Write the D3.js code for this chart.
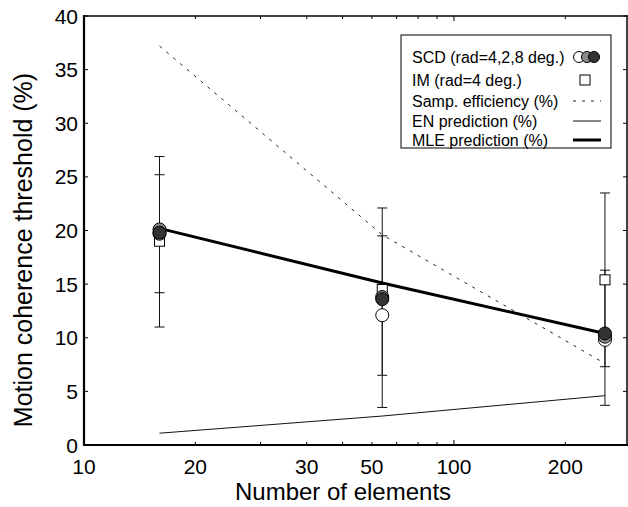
<!DOCTYPE html>
<html>
<head>
<meta charset="utf-8">
<script src="https://cdn.jsdelivr.net/npm/d3@7"></script>
<style>
  body { margin: 0; background: #fff; }
  svg { display: block; font-family: "Liberation Sans", Arial, sans-serif; }
</style>
</head>
<body>
<div id="chart-container"></div>
<script>
// Data
const elements = [16, 64, 256];
const scdWhite = [19.7, 12.1, 9.8];
const scdGrey = [20.1, 13.8, 10.1];
const scdDark = [19.8, 13.6, 10.4];
const imValues = [19.0, 14.5, 15.4];
const scdErrLow = [14.2, 3.5, 3.7];
const scdErrHigh = [25.2, 19.5, 16.3];
const imErrLow = [11.0, 6.5, 7.3];
const imErrHigh = [26.9, 22.1, 23.5];
const sampEfficiency = [37.2, 19.6, 7.6];
const enPrediction = [1.1, 2.7, 4.6];
const mlePrediction = [20.2, 15.1, 10.4];

const xTickValues = [10, 20, 40, 60, 100, 200];
const xTickLabels = ["10", "20", "30", "50", "100", "200"];
const xMinorTicks = [20, 30, 40, 50, 60, 70, 80, 90, 100, 200];
const yTickValues = [0, 5, 10, 15, 20, 25, 30, 35, 40];

const legendLabels = ["SCD (rad=4,2,8 deg.)", "IM (rad=4 deg.)", "Samp. efficiency (%)", "EN prediction (%)", "MLE prediction (%)"];

const W = 628, H = 507;
const svg = d3.select("#chart-container")
    .append("svg")
    .attr("width", W)
    .attr("height", H);

const x = d3.scaleLog().domain([10, 293.6]).range([84, 627]);
const y = d3.scaleLinear().domain([0, 40]).range([445, 16]);

// Frame
svg.append("line").attr("x1", 84).attr("x2", 628).attr("y1", 16).attr("y2", 16)
    .attr("stroke", "#000").attr("stroke-width", 1.5);
svg.append("line").attr("x1", 627).attr("x2", 627).attr("y1", 16).attr("y2", 445)
    .attr("stroke", "#000").attr("stroke-width", 1.5);

// Bottom axis (inward ticks)
const xAxis = svg.append("g").attr("transform", "translate(0,445)");
xAxis.append("line").attr("x1", 83).attr("x2", 628).attr("stroke", "#000").attr("stroke-width", 2.2);
xAxis.selectAll(".minor").data(xMinorTicks).enter().append("line")
    .attr("x1", d => x(d)).attr("x2", d => x(d))
    .attr("y1", 0).attr("y2", d => d === 100 ? -5 : -3)
    .attr("stroke", "#000").attr("stroke-width", 1);
xAxis.selectAll(".lab").data(xTickValues).enter().append("text")
    .attr("x", d => x(d)).attr("y", 29)
    .attr("text-anchor", "middle")
    .style("font-size", "21px")
    .text((d, i) => xTickLabels[i]);

// Top ticks
svg.selectAll(".topTick").data(xMinorTicks).enter().append("line")
    .attr("x1", d => x(d)).attr("x2", d => x(d))
    .attr("y1", 16).attr("y2", d => d === 100 ? 21 : 19)
    .attr("stroke", "#000").attr("stroke-width", 1);

// Left axis
const yAxis = svg.append("g");
yAxis.append("line").attr("x1", 84).attr("x2", 84).attr("y1", 15).attr("y2", 446)
    .attr("stroke", "#000").attr("stroke-width", 2.2);
yAxis.selectAll(".yt").data(yTickValues).enter().append("line")
    .attr("x1", 84).attr("x2", 88).attr("y1", d => y(d)).attr("y2", d => y(d))
    .attr("stroke", "#000");
yAxis.selectAll(".yr").data(yTickValues).enter().append("line")
    .attr("x1", 627).attr("x2", 623).attr("y1", d => y(d)).attr("y2", d => y(d))
    .attr("stroke", "#000");
yAxis.selectAll(".yl").data(yTickValues).enter().append("text")
    .attr("x", 78).attr("y", d => y(d)).attr("dy", "0.36em")
    .attr("text-anchor", "end")
    .style("font-size", "21px")
    .text(d => d);

// Axis titles
svg.append("text")
    .attr("x", 343).attr("y", 500)
    .attr("text-anchor", "middle")
    .style("font-size", "24px")
    .text("Number of elements");
svg.append("text")
    .attr("transform", "translate(32,250) rotate(-90)")
    .attr("text-anchor", "middle")
    .style("font-size", "25px")
    .text("Motion coherence threshold (%)");

// Lines
const pts = vals => elements.map((e, i) => [e, vals[i]]);
const line = d3.line().x(d => x(d[0])).y(d => y(d[1]));

svg.append("path").attr("d", line(pts(sampEfficiency)))
    .attr("fill", "none").attr("stroke", "#222").attr("stroke-width", 1)
    .attr("stroke-dasharray", "3,6");
svg.append("path").attr("d", line(pts(enPrediction)))
    .attr("fill", "none").attr("stroke", "#111").attr("stroke-width", 1);

// Error bars
function errorBars(lo, hi) {
    const g = svg.append("g").attr("stroke", "#111").attr("stroke-width", 1);
    elements.forEach((e, i) => {
        const cx = x(e);
        g.append("line").attr("x1", cx).attr("x2", cx).attr("y1", y(lo[i])).attr("y2", y(hi[i]));
        g.append("line").attr("x1", cx - 5).attr("x2", cx + 5).attr("y1", y(lo[i])).attr("y2", y(lo[i]));
        g.append("line").attr("x1", cx - 5).attr("x2", cx + 5).attr("y1", y(hi[i])).attr("y2", y(hi[i]));
    });
}
errorBars(imErrLow, imErrHigh);
errorBars(scdErrLow, scdErrHigh);

svg.append("path").attr("d", line(pts(mlePrediction)))
    .attr("fill", "none").attr("stroke", "#000").attr("stroke-width", 3);

// IM squares
svg.selectAll(".im").data(pts(imValues)).enter().append("rect")
    .attr("x", d => x(d[0]) - 5).attr("y", d => y(d[1]) - 5)
    .attr("width", 10).attr("height", 10)
    .attr("fill", "#fff").attr("stroke", "#000").attr("stroke-width", 1);

// SCD circles
const circleSets = [[scdWhite, "#fff"], [scdGrey, "#8a8a8a"], [scdDark, "#333"]];
circleSets.forEach(([vals, fill]) => {
    svg.selectAll(null).data(pts(vals)).enter().append("circle")
        .attr("cx", d => x(d[0])).attr("cy", d => y(d[1]))
        .attr("r", 6.5)
        .attr("fill", fill).attr("stroke", "#000").attr("stroke-width", 1);
});

// Legend
const legend = svg.append("g");
legend.append("rect").attr("x", 401).attr("y", 35).attr("width", 210).attr("height", 113)
    .attr("fill", "#fff").attr("stroke", "#000").attr("stroke-width", 1);
const rowY = [57, 80, 101, 121, 140];
legend.selectAll(".lt").data(legendLabels).enter().append("text")
    .attr("x", 412).attr("y", (d, i) => rowY[i]).attr("dy", "0.35em")
    .style("font-size", "16px")
    .text(d => d);
[["#fff", 579], ["#8a8a8a", 587], ["#333", 594]].forEach(([fill, cx]) => {
    legend.append("circle").attr("cx", cx).attr("cy", rowY[0]).attr("r", 5.5)
        .attr("fill", fill).attr("stroke", "#000");
});
legend.append("rect").attr("x", 580).attr("y", rowY[1] - 5).attr("width", 10).attr("height", 10)
    .attr("fill", "#fff").attr("stroke", "#000");
legend.append("line").attr("x1", 573).attr("x2", 601).attr("y1", rowY[2]).attr("y2", rowY[2])
    .attr("stroke", "#222").attr("stroke-dasharray", "3,6");
legend.append("line").attr("x1", 573).attr("x2", 601).attr("y1", rowY[3]).attr("y2", rowY[3])
    .attr("stroke", "#111");
legend.append("line").attr("x1", 573).attr("x2", 601).attr("y1", rowY[4]).attr("y2", rowY[4])
    .attr("stroke", "#000").attr("stroke-width", 3);
</script>
</body>
</html>
